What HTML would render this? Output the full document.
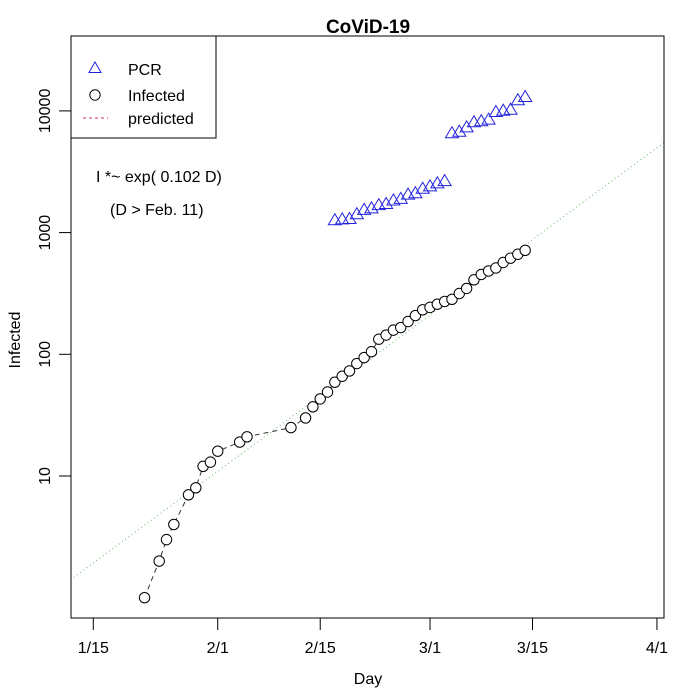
<!DOCTYPE html>
<html><head><meta charset="utf-8"><style>
html,body{margin:0;padding:0;background:#fff;}
svg{display:block;font-family:"Liberation Sans",Arial,sans-serif;}
</style></head><body>
<svg id="chart" width="690" height="690" viewBox="0 0 690 690">
<rect width="690" height="690" fill="#fff"/>
<text x="368" y="33" font-size="19" font-weight="bold" text-anchor="middle">CoViD-19</text>
<g id="plot"></g>
<rect x="71" y="36" width="593" height="582" fill="none" stroke="#000" stroke-width="1"/>
<text x="368" y="684" font-size="16" text-anchor="middle">Day</text>
<text transform="translate(20,340) rotate(-90)" font-size="16" text-anchor="middle">Infected</text>
<g>
<rect x="71" y="36" width="145" height="102" fill="#fff" stroke="#000"/>
<polygon points="95,62 101,72.5 89,72.5" fill="none" stroke="#2222dd"/>
<text x="128" y="75" font-size="16">PCR</text>
<circle cx="95" cy="95" r="5.2" fill="none" stroke="#000"/>
<text x="128" y="101" font-size="16">Infected</text>
<line x1="83" y1="118" x2="108" y2="118" stroke="#cc3366" stroke-dasharray="3,3"/>
<text x="128" y="124" font-size="16">predicted</text>
</g>
<text x="96" y="182" font-size="16">I *~ exp( 0.102  D)</text>
<text x="110" y="215" font-size="16">(D &gt; Feb. 11)</text>
</svg>
<script>
const infDays=[7,9,10,11,13,14,15,16,17,20,21,27,29,30,31,32,33,34,35,36,37,38,39,40,41,42,43,44,45,46,47,48,49,50,51,52,53,54,55,56,57,58,59];
const infVals=[1,2,3,4,7,8,12,13,16,19,21,25,30,37,43,49,59,66,73,84,94,105,133,144,158,166,186,208,232,243,258,272,283,316,348,409,453,484,512,568,616,664,715];
const pcrDays=[33,34,35,36,37,38,39,40,41,42,43,44,45,46,47,48,49,50,51,52,53,54,55,56,57,58,59];
const pcrVals=[1263,1283,1294,1414,1538,1583,1680,1718,1837,1891,2050,2107,2293,2400,2537,2650,6546,6745,7328,8060,8220,8470,9790,10040,10230,12230,13000];
const xTickDays=[0,17,31,46,60,77];
const xTickLabels=["1/15","2/1","2/15","3/1","3/15","4/1"];
const yTicks=[10,100,1000,10000];
const fitRate=0.102; const fitAnchorDay=0; const fitAnchorVal=1.93;
const X=d=>93.3+d*7.32;
const Y=v=>476-121.7*(Math.log10(v)-1);
const NS="http://www.w3.org/2000/svg";
const svg=document.getElementById('chart');
const plot=document.getElementById('plot');
function mk(tag,at,parent){const e=document.createElementNS(NS,tag);for(const k in at)e.setAttribute(k,at[k]);(parent||plot).appendChild(e);return e;}
xTickDays.forEach((d,i)=>{
 const t=mk('line',{x1:X(d),y1:618,x2:X(d),y2:630,stroke:'#000'},svg);
 
 
 const l=mk('text',{x:X(d),y:653,'font-size':16,'text-anchor':'middle'},svg);l.textContent=xTickLabels[i];
 
 
});
yTicks.forEach(v=>{
 const t=mk('line',{x1:59,y1:Y(v),x2:71,y2:Y(v),stroke:'#000'},svg);
 
 
 const l=mk('text',{transform:`translate(50,${Y(v)}) rotate(-90)`,'font-size':16,'text-anchor':'middle'},svg);l.textContent=String(v);
 
 
});
const defs=mk('defs',{},svg);const cp=mk('clipPath',{id:'cp'},defs);mk('rect',{x:71,y:36,width:593,height:582},cp);
plot.setAttribute('clip-path','url(#cp)');
const d0=-4,d1=80;
const fv=d=>fitAnchorVal*Math.exp(fitRate*(d-fitAnchorDay));
const fl=mk('line',{x1:X(d0),y1:Y(fv(d0)),x2:X(d1),y2:Y(fv(d1)),stroke:'#66bb66','stroke-dasharray':'1,3','stroke-width':1});


const pl=mk('polyline',{points:infDays.map((d,i)=>X(d)+','+Y(infVals[i])).join(' '),fill:'none',stroke:'#333','stroke-dasharray':'5,4'});


infDays.forEach((d,i)=>{
 const c=mk('circle',{cx:X(d),cy:Y(infVals[i]),r:5.2,fill:'#fff',stroke:'#000'});
 
 
});
pcrDays.forEach((d,i)=>{
 const x=X(d),y=Y(pcrVals[i]);
 const p=mk('polygon',{points:`${x},${y-6.5} ${x+6.5},${y+4.5} ${x-6.5},${y+4.5}`,fill:'none',stroke:'#2222dd'});
 
 
});
</script>
</body></html>
